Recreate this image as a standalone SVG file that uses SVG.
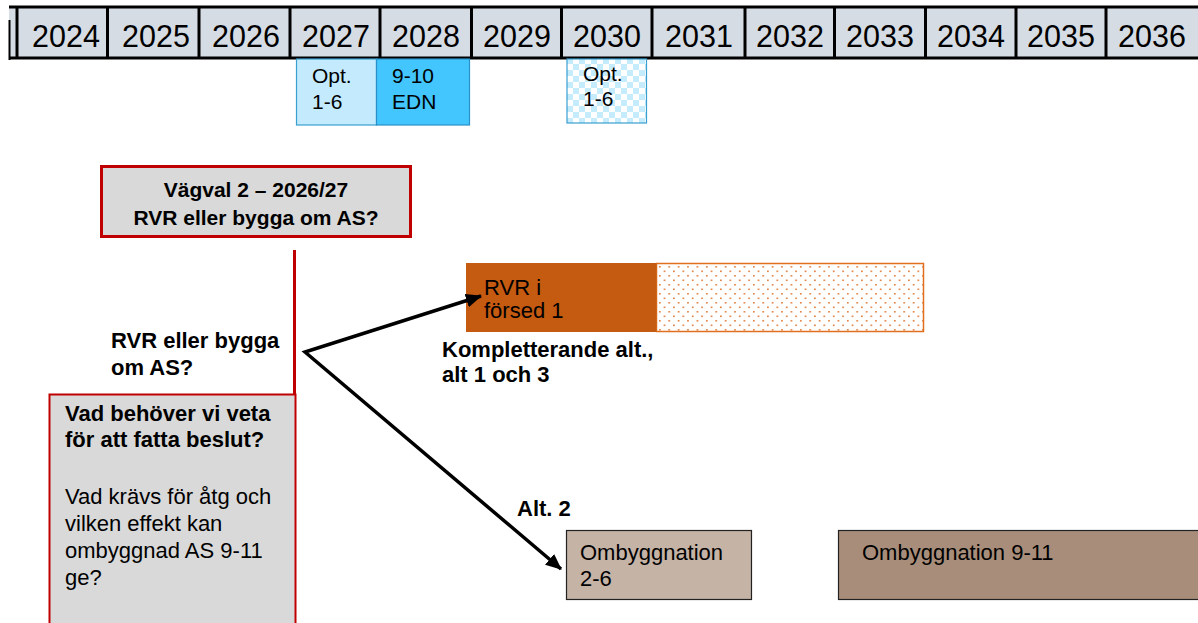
<svg xmlns="http://www.w3.org/2000/svg" width="1198" height="623" viewBox="0 0 1198 623">
<defs>
<style>
.yr{font-family:"Liberation Sans",Arial,sans-serif;font-size:30.5px;fill:#000;text-anchor:middle}
.t{font-family:"Liberation Sans",Arial,sans-serif;font-size:22px;fill:#000}
.b{font-family:"Liberation Sans",Arial,sans-serif;font-size:22px;font-weight:bold;fill:#000}
.s{font-size:21px}
.cell{fill:#d6dce4}
.sep{stroke:#000;stroke-width:3}
.conn{stroke:#000;stroke-width:3.5;fill:none}
</style>
<pattern id="dots" width="9.4" height="9" patternUnits="userSpaceOnUse" x="658" y="265">
<rect width="9.4" height="9" fill="#fff"/>
<rect x="1" y="1" width="1.6" height="1.6" fill="#e07b39"/>
<rect x="5.7" y="5.5" width="1.6" height="1.6" fill="#e07b39"/>
</pattern>
<pattern id="checks" width="12" height="12" patternUnits="userSpaceOnUse" x="567" y="58">
<rect width="12" height="12" fill="#fff"/>
<rect width="6" height="6" fill="#c5ecfd"/>
<rect x="6" y="6" width="6" height="6" fill="#c5ecfd"/>
</pattern>
<marker id="arr" markerWidth="16" markerHeight="14" refX="15" refY="7" orient="auto-start-reverse" markerUnits="userSpaceOnUse" viewBox="0 0 16 14">
<path d="M0,0 L16,7 L0,14 z" fill="#000"/>
</marker>
</defs>
<rect width="1198" height="623" fill="#fff"/>
<g id="timeline">
<rect x="9" y="7" width="1189" height="51" class="cell"/>
<line x1="9" y1="7" x2="1198" y2="7" class="sep"/>
<line x1="9" y1="58" x2="1198" y2="58" class="sep"/>
<line x1="9.5" y1="20" x2="9.5" y2="60" stroke="#000" stroke-width="2"/>
<line x1="17" y1="7" x2="17" y2="59" class="sep"/>
<line x1="107.5" y1="7" x2="107.5" y2="59" class="sep"/>
<line x1="199" y1="7" x2="199" y2="59" class="sep"/>
<line x1="290" y1="7" x2="290" y2="59" class="sep"/>
<line x1="380" y1="7" x2="380" y2="59" class="sep"/>
<line x1="471.5" y1="7" x2="471.5" y2="59" class="sep"/>
<line x1="561.5" y1="7" x2="561.5" y2="59" class="sep"/>
<line x1="652" y1="7" x2="652" y2="59" class="sep"/>
<line x1="745" y1="7" x2="745" y2="59" class="sep"/>
<line x1="834.5" y1="7" x2="834.5" y2="59" class="sep"/>
<line x1="925.5" y1="7" x2="925.5" y2="59" class="sep"/>
<line x1="1016" y1="7" x2="1016" y2="59" class="sep"/>
<line x1="1106" y1="7" x2="1106" y2="59" class="sep"/>
<text x="66" y="47" class="yr">2024</text>
<text x="156" y="47" class="yr">2025</text>
<text x="246" y="47" class="yr">2026</text>
<text x="336" y="47" class="yr">2027</text>
<text x="426" y="47" class="yr">2028</text>
<text x="517" y="47" class="yr">2029</text>
<text x="607" y="47" class="yr">2030</text>
<text x="699" y="47" class="yr">2031</text>
<text x="790" y="47" class="yr">2032</text>
<text x="880" y="47" class="yr">2033</text>
<text x="971" y="47" class="yr">2034</text>
<text x="1061" y="47" class="yr">2035</text>
<text x="1152" y="47" class="yr">2036</text>
</g>
<g id="opt2027">
<rect x="296.5" y="59" width="80" height="66" fill="#c3ebfd" stroke="#3a9fd0" stroke-width="1.2"/>
<text x="312" y="83" class="t s">Opt.</text>
<text x="312" y="109" class="t s">1-6</text>
</g>
<g id="edn2028">
<rect x="376.5" y="59" width="93" height="66" fill="#42c6fd" stroke="#2a90c8" stroke-width="1.2"/>
<text x="392" y="83" class="t s">9-10</text>
<text x="392" y="109" class="t s">EDN</text>
</g>
<g id="opt2030">
<rect x="567" y="59" width="79.5" height="64" fill="url(#checks)" stroke="#3a9fd0" stroke-width="1.2"/>
<text x="583" y="81" class="t s">Opt.</text>
<text x="583" y="106" class="t s">1-6</text>
</g>
<g id="vagval">
<rect x="101.5" y="166.5" width="309" height="70" fill="#d9d9d9" stroke="#c00000" stroke-width="3"/>
<text x="256" y="197" class="b s" text-anchor="middle">Vägval 2 – 2026/27</text>
<text x="256" y="225" class="b s" text-anchor="middle">RVR eller bygga om AS?</text>
</g>
<g id="question">
<text x="111" y="348" class="b">RVR eller bygga</text>
<text x="111" y="375" class="b">om AS?</text>
</g>
<g id="vadbehover">
<rect x="49.5" y="394.5" width="246" height="240" fill="#d9d9d9" stroke="#c00000" stroke-width="2"/>
<text x="65" y="421" class="b">Vad behöver vi veta</text>
<text x="65" y="447" class="b">för att fatta beslut?</text>
<text x="65" y="504" class="t">Vad krävs för åtg och</text>
<text x="65" y="531" class="t">vilken effekt kan</text>
<text x="65" y="558" class="t">ombyggnad AS 9-11</text>
<text x="65" y="585" class="t">ge?</text>
</g>
<g id="rvr">
<rect x="656.5" y="263.5" width="267" height="68" fill="url(#dots)" stroke="#e0701f" stroke-width="1.5"/>
<rect x="466" y="263" width="190.5" height="69" fill="#c55a11"/>
<text x="484" y="295" class="t">RVR i</text>
<text x="484" y="318" class="t">försed 1</text>
</g>
<g id="kompl">
<text x="442" y="357" class="b">Kompletterande alt.,</text>
<text x="442" y="382" class="b">alt 1 och 3</text>
</g>
<g id="alt2">
<text x="517" y="516" class="b">Alt. 2</text>
</g>
<g id="omb26">
<rect x="566.5" y="530.5" width="185" height="69" fill="#c5b3a6" stroke="#222" stroke-width="1.2"/>
<text x="580" y="560" class="t">Ombyggnation</text>
<text x="580" y="586" class="t">2-6</text>
</g>
<g id="omb911">
<rect x="838.5" y="530.5" width="365" height="69" fill="#a88e7a" stroke="#222" stroke-width="1.2"/>
<text x="862" y="560" class="t">Ombyggnation 9-11</text>
</g>
<g id="connectors">
<line x1="294.5" y1="250" x2="294.5" y2="395" stroke="#c00000" stroke-width="3"/>
<path d="M481,296 L305,352 L561,569" class="conn" stroke-linejoin="miter" marker-start="url(#arr)" marker-end="url(#arr)"/>
</g>
</svg>
